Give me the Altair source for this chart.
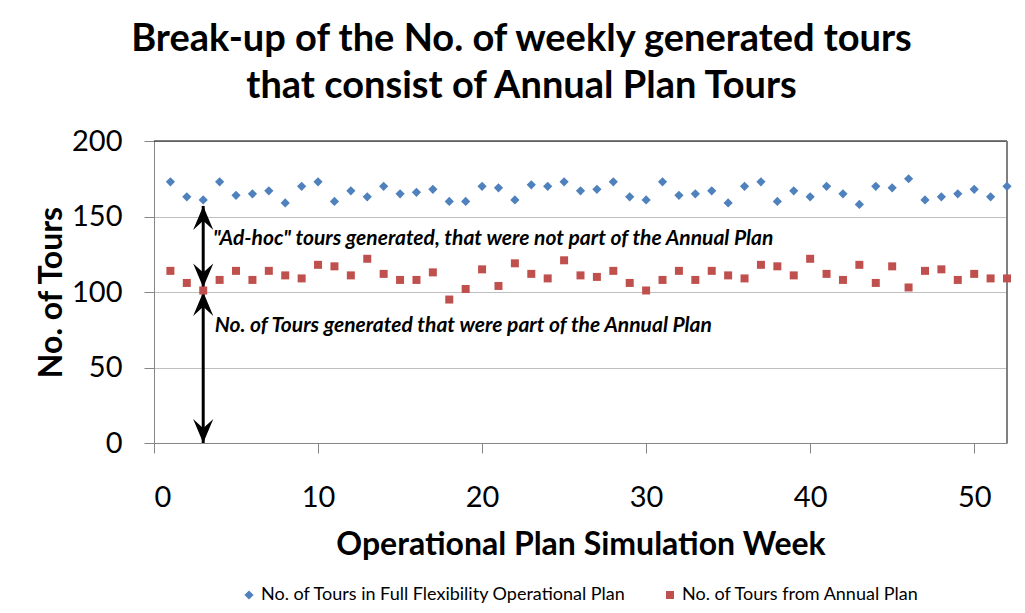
import altair as alt
import pandas as pd

weeks = list(range(1, 53))
full_flex = [173, 163, 161, 173, 164, 165, 167, 159, 170, 173, 160, 167, 163, 170, 165, 166,
             168, 160, 160, 170, 169, 161, 171, 170, 173, 167, 168, 173, 163, 161, 173, 164,
             165, 167, 159, 170, 173, 160, 167, 163, 170, 165, 158, 170, 169, 175, 161, 163,
             165, 168, 163, 170]
annual = [114, 106, 101, 108, 114, 108, 114, 111, 109, 118, 117, 111, 122, 112, 108, 108,
          113, 95, 102, 115, 104, 119, 112, 109, 121, 111, 110, 114, 106, 101, 108, 114,
          108, 114, 111, 109, 118, 117, 111, 122, 112, 108, 118, 106, 117, 103, 114, 115,
          108, 112, 109, 109]

series_names = ["No. of Tours in Full Flexibility Operational Plan", "No. of Tours from Annual Plan"]
series_colors = ["#4F81BD", "#C0504D"]
series_shapes = ["diamond", "square"]

title_lines = ["Break-up of the No. of weekly generated tours", "that consist of Annual Plan Tours"]
x_ticks = [0, 10, 20, 30, 40, 50]
y_ticks = [0, 50, 100, 150, 200]

# annotation arrows (week, from, to)
arrow_x = [3, 3]
arrow_y1 = [157, 100]
arrow_y2 = [103, 0]
ann_texts = ['"Ad-hoc" tours generated, that were not part of the Annual Plan',
             "No. of Tours generated that were part of the Annual Plan"]
ann_x = [3.6, 3.7]
ann_y = [135, 77.5]

FONT = "Lato"

df = pd.DataFrame({
    "week": weeks * 2,
    "tours": full_flex + annual,
    "series": [series_names[0]] * len(weeks) + [series_names[1]] * len(weeks),
})

x_scale = alt.Scale(domain=[0, 52], nice=False)
y_scale = alt.Scale(domain=[0, 200], nice=False)

x_axis = alt.Axis(values=x_ticks, title="Operational Plan Simulation Week", grid=False,
                  labelFont=FONT, labelFontSize=29, labelColor="black", labelPadding=30,
                  tickSize=10, tickColor="#868686", domainColor="#868686",
                  titleFont=FONT, titleFontSize=32, titleFontWeight="bold", titleColor="black",
                  titlePadding=17)
y_axis = alt.Axis(values=y_ticks, title="No. of Tours", grid=True, gridColor="#BFBFBF",
                  labelFont=FONT, labelFontSize=29, labelColor="black", labelPadding=22,
                  tickSize=10, tickColor="#868686", domainColor="#868686",
                  titleFont=FONT, titleFontSize=32, titleFontWeight="bold", titleColor="black",
                  titlePadding=3)

points = alt.Chart(df).mark_point(filled=True, opacity=1).encode(
    x=alt.X("week:Q", scale=x_scale, axis=x_axis),
    y=alt.Y("tours:Q", scale=y_scale, axis=y_axis),
    color=alt.Color("series:N", scale=alt.Scale(domain=series_names, range=series_colors),
                    legend=alt.Legend(title=None, orient="none", legendX=86, legendY=445,
                                      direction="horizontal", columns=2, columnPadding=34,
                                      labelFont=FONT, labelFontSize=18, labelColor="black",
                                      labelLimit=600, symbolSize=55, labelOffset=3, padding=0)),
    shape=alt.Shape("series:N", scale=alt.Scale(domain=series_names, range=series_shapes)),
    size=alt.Size("series:N", scale=alt.Scale(domain=series_names, range=[85, 64]), legend=None),
)

frame_top = alt.Chart(pd.DataFrame({"y": [200]})).mark_rule(color="black", strokeWidth=1.2).encode(
    y=alt.Y("y:Q", scale=y_scale))
frame_right = alt.Chart(pd.DataFrame({"x": [52]})).mark_rule(color="#808080", strokeWidth=2).encode(
    x=alt.X("x:Q", scale=x_scale))

arrows_df = pd.DataFrame({"x": arrow_x, "y1": arrow_y1, "y2": arrow_y2})
arrow_lines = alt.Chart(arrows_df).mark_rule(color="black", strokeWidth=3).encode(
    x=alt.X("x:Q", scale=x_scale), y=alt.Y("y1:Q", scale=y_scale), y2="y2:Q")

heads_df = pd.DataFrame({
    "x": arrow_x * 2,
    "y": arrow_y1 + arrow_y2,
    "dir": ["up", "up", "down", "down"],
})
head_up = alt.Chart(heads_df).transform_filter(alt.datum.dir == "up").mark_point(
    shape="M0,0L0.42,1L0,0.62L-0.42,1Z", filled=True, fill="black", strokeWidth=0, size=2300, opacity=1
).encode(x=alt.X("x:Q", scale=x_scale), y=alt.Y("y:Q", scale=y_scale))
head_down = alt.Chart(heads_df).transform_filter(alt.datum.dir == "down").mark_point(
    shape="M0,0L0.42,-1L0,-0.62L-0.42,-1Z", filled=True, fill="black", strokeWidth=0, size=2300, opacity=1
).encode(x=alt.X("x:Q", scale=x_scale), y=alt.Y("y:Q", scale=y_scale))

ann_df = pd.DataFrame({"x": ann_x, "y": ann_y, "t": ann_texts})
ann = alt.Chart(ann_df).mark_text(align="left", baseline="middle", font=FONT, fontSize=21,
                                  fontStyle="italic", fontWeight="bold", color="black").encode(
    x=alt.X("x:Q", scale=x_scale), y=alt.Y("y:Q", scale=y_scale), text="t:N")

chart = alt.layer(frame_top, frame_right, arrow_lines, head_up, head_down, ann, points).properties(
    width=853, height=302,
    autosize=alt.AutoSizeParams(type="none"),
    padding={"left": 146, "top": 133, "right": 10, "bottom": 160},
    title=alt.TitleParams(text=title_lines, font=FONT, fontSize=38, fontWeight="bold",
                          color="black", anchor="middle", dx=-59, offset=-17, lineHeight=47,
                          baseline="bottom"),
).configure_view(stroke=None).configure(background="white")

chart.save("out.html", embed_options={"renderer": "svg", "actions": False})
